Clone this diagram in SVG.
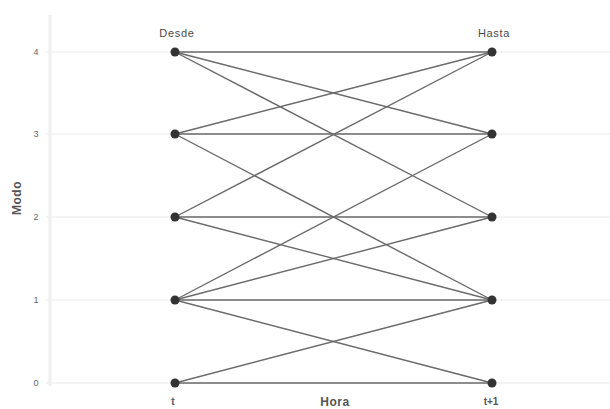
<svg xmlns="http://www.w3.org/2000/svg" width="610" height="409" viewBox="0 0 610 409">
<style>
text{font-family:"Liberation Sans",Arial,sans-serif;fill:#555}
.tick{font-size:9px;fill:#666}
.tl{font-size:10px;fill:#555;font-weight:bold}
.hdr{font-size:11px;letter-spacing:0.7px;fill:#4a4a4a}
.ax{font-size:12px;font-weight:bold;fill:#555;letter-spacing:0.5px}
.grid{stroke:#f0f0f0;stroke-width:1.5}
.edge{stroke:#6a6a6a;stroke-width:1.4;fill:none}
.node{fill:#333}
</style>
<rect width="610" height="409" fill="#fff"/>
<g id="axes">
<line x1="50" y1="15" x2="50" y2="386" stroke="#f0f0f0" stroke-width="3"/>
<line class="grid" x1="46" y1="52" x2="610" y2="52"/>
<line class="grid" x1="46" y1="134" x2="610" y2="134"/>
<line class="grid" x1="46" y1="217" x2="610" y2="217"/>
<line class="grid" x1="46" y1="300" x2="610" y2="300"/>
<line class="grid" x1="46" y1="383" x2="610" y2="383"/>
<text class="tick" x="36" y="55" text-anchor="middle">4</text>
<text class="tick" x="36" y="137" text-anchor="middle">3</text>
<text class="tick" x="36" y="220" text-anchor="middle">2</text>
<text class="tick" x="36" y="303" text-anchor="middle">1</text>
<text class="tick" x="36" y="386" text-anchor="middle">0</text>
<text class="ax" x="0" y="0" text-anchor="middle" transform="translate(21,198) rotate(-90)">Modo</text>
<text class="ax" x="335" y="406" text-anchor="middle">Hora</text>
<text class="tl" x="173" y="405" text-anchor="middle">t</text>
<text class="tl" x="491" y="405" text-anchor="middle">t+1</text>
<text class="hdr" x="177" y="37" text-anchor="middle">Desde</text>
<text class="hdr" x="494" y="37" text-anchor="middle">Hasta</text>
</g>
<g id="connectors">
<line class="edge" x1="175" y1="52" x2="492" y2="52"/>
<line class="edge" x1="175" y1="52" x2="492" y2="134"/>
<line class="edge" x1="175" y1="52" x2="492" y2="217"/>
<line class="edge" x1="175" y1="134" x2="492" y2="52"/>
<line class="edge" x1="175" y1="134" x2="492" y2="134"/>
<line class="edge" x1="175" y1="134" x2="492" y2="300"/>
<line class="edge" x1="175" y1="217" x2="492" y2="52"/>
<line class="edge" x1="175" y1="217" x2="492" y2="217"/>
<line class="edge" x1="175" y1="217" x2="492" y2="300"/>
<line class="edge" x1="175" y1="300" x2="492" y2="134"/>
<line class="edge" x1="175" y1="300" x2="492" y2="217"/>
<line class="edge" x1="175" y1="300" x2="492" y2="300"/>
<line class="edge" x1="175" y1="300" x2="492" y2="383"/>
<line class="edge" x1="175" y1="383" x2="492" y2="300"/>
<line class="edge" x1="175" y1="383" x2="492" y2="383"/>
</g>
<g id="from4"><circle class="node" cx="175" cy="52" r="4.5"/></g>
<g id="from3"><circle class="node" cx="175" cy="134" r="4.5"/></g>
<g id="from2"><circle class="node" cx="175" cy="217" r="4.5"/></g>
<g id="from1"><circle class="node" cx="175" cy="300" r="4.5"/></g>
<g id="from0"><circle class="node" cx="175" cy="383" r="4.5"/></g>
<g id="to4"><circle class="node" cx="492" cy="52" r="4.5"/></g>
<g id="to3"><circle class="node" cx="492" cy="134" r="4.5"/></g>
<g id="to2"><circle class="node" cx="492" cy="217" r="4.5"/></g>
<g id="to1"><circle class="node" cx="492" cy="300" r="4.5"/></g>
<g id="to0"><circle class="node" cx="492" cy="383" r="4.5"/></g>
</svg>
